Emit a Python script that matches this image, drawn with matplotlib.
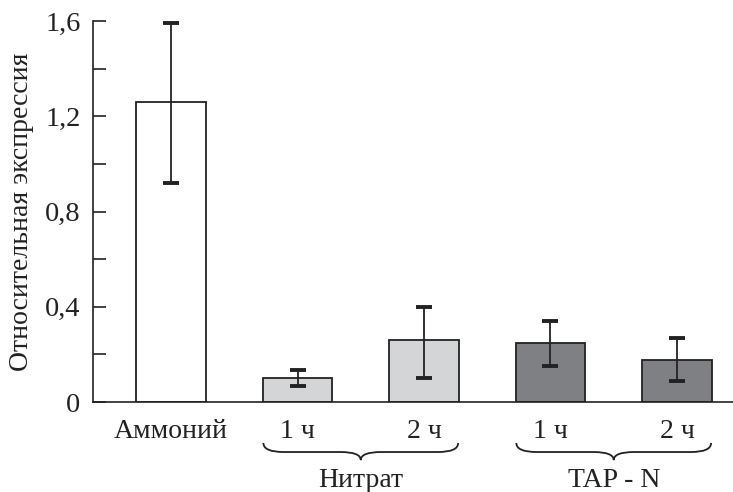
import matplotlib
matplotlib.use("Agg")
import matplotlib.pyplot as plt
from matplotlib.path import Path
from matplotlib.patches import PathPatch
import numpy as np

plt.rcParams['font.family'] = ['Liberation Serif', 'DejaVu Serif']

# data
labels = ['Аммоний', '1 ч', '2 ч', '1 ч', '2 ч']
values = [1.26, 0.10, 0.26, 0.248, 0.177]
err_low = [0.92, 0.067, 0.10, 0.15, 0.09]
err_high = [1.59, 0.134, 0.40, 0.34, 0.27]
colors = ['#ffffff', '#d4d5d7', '#d4d5d7', '#7f8083', '#7f8083']
groups = ['Нитрат', 'TAP - N']
group_span = [(1, 2), (3, 4)]

x = np.arange(len(values))
vals = np.array(values)
yerr = [vals - np.array(err_low), np.array(err_high) - vals]

fig = plt.figure(figsize=(7.33, 4.92), dpi=100)
ax = fig.add_axes([0.1269, 0.1829, 0.8731, 0.7744])

ax.bar(x, values, width=0.55, color=colors, edgecolor='#222222', linewidth=1.3, zorder=2)
ax.errorbar(x, values, yerr=yerr, fmt='none', ecolor='#222222', elinewidth=1.3,
            capsize=5.8, capthick=2.8, zorder=3)

ax.set_xlim(-0.617, 4.443)
ax.set_ylim(0, 1.6)
ax.set_yticks([0, 0.4, 0.8, 1.2, 1.6])
ax.set_yticklabels(['0', '0,4', '0,8', '1,2', '1,6'])
ax.set_yticks([0.2, 0.6, 1.0, 1.4], minor=True)
ax.tick_params(axis='y', which='both', direction='in', length=9, width=1.2,
               labelsize=20.5, pad=9, colors='#222222')
ax.set_xticks(x)
ax.set_xticklabels(labels)
ax.tick_params(axis='x', length=0, labelsize=20, pad=12, colors='#222222')

for s in ['top', 'right']:
    ax.spines[s].set_visible(False)
for s in ['left', 'bottom']:
    ax.spines[s].set_linewidth(1.2)
    ax.spines[s].set_color('#222222')

ax.set_ylabel('Относительная экспрессия', fontsize=20, color='#222222', labelpad=8)

# curly braces under the groups
yt, ym, ytip = -0.172, -0.21, -0.244
r = 0.16
for (a, b), name in zip(group_span, groups):
    xc = (a + b) / 2
    x0 = xc - 0.77
    x1 = xc + 0.77
    verts = [(x0, yt), (x0, ym), (x0 + r, ym), (xc - r, ym),
             (xc, ym), (xc, ytip), (xc, ym), (xc + r, ym),
             (x1 - r, ym), (x1, ym), (x1, yt)]
    codes = [Path.MOVETO, Path.CURVE3, Path.CURVE3, Path.LINETO,
             Path.CURVE3, Path.CURVE3, Path.CURVE3, Path.CURVE3,
             Path.LINETO, Path.CURVE3, Path.CURVE3]
    ax.add_patch(PathPatch(Path(verts, codes), fill=False, edgecolor='#222222',
                           linewidth=1.3, clip_on=False))
    ax.text(xc, -0.33, name, ha='center', va='center', fontsize=20, color='#222222')

fig.savefig('out.png', dpi=100)
